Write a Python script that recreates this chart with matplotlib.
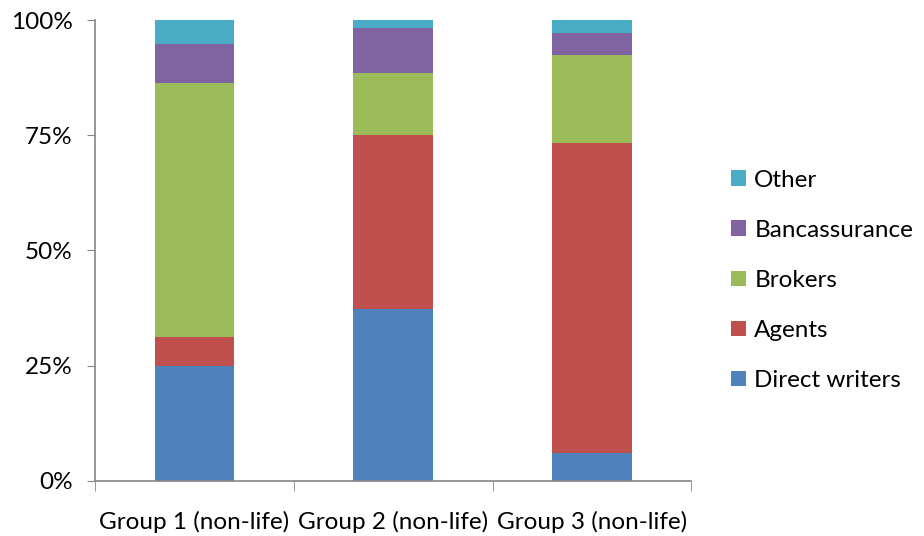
import numpy as np
import matplotlib.pyplot as plt
from matplotlib.ticker import FixedLocator, PercentFormatter

groups = ["Group 1 (non-life)", "Group 2 (non-life)", "Group 3 (non-life)"]
direct = [24.8, 37.3, 5.9]
agents = [6.5, 37.7, 67.5]
brokers = [55.1, 13.6, 19.1]
banca = [8.4, 9.7, 4.8]
other = [5.2, 1.7, 2.7]

series = [("Direct writers", direct, "#4F81BD"),
          ("Agents", agents, "#C0504D"),
          ("Brokers", brokers, "#9BBB59"),
          ("Bancassurance", banca, "#8064A2"),
          ("Other", other, "#4BACC6")]

plt.rcParams['font.family'] = ['Lato', 'DejaVu Sans']

fig = plt.figure(figsize=(9.24, 5.36), dpi=100)
ax = fig.add_axes([0.1028, 0.1035, 0.6455, 0.8583])

x = np.arange(len(groups))
bottom = np.zeros(len(groups))
for name, vals, col in series:
    vals = np.array(vals)
    ax.bar(x, vals, 0.4, bottom=bottom, color=col, label=name, linewidth=0)
    bottom += vals

ax.set_xlim(-0.5, 2.5)
ax.set_ylim(0, 100)
ax.set_yticks([0, 25, 50, 75, 100])
ax.yaxis.set_major_formatter(PercentFormatter(decimals=0))
ax.set_xticks(x)
ax.set_xticklabels(groups)
ax.xaxis.set_minor_locator(FixedLocator([-0.5, 0.5, 1.5, 2.5]))

for s in ["top", "right"]:
    ax.spines[s].set_visible(False)
for s in ["left", "bottom"]:
    ax.spines[s].set_color("#868686")
    ax.spines[s].set_linewidth(1.2)

fs = 17.5
ax.tick_params(axis="y", colors="#868686", labelcolor="black", labelsize=fs, length=6, pad=10)
ax.tick_params(axis="x", which="major", length=0, labelsize=fs, pad=22)
ax.tick_params(axis="x", which="minor", colors="#868686", length=7)

h, l = ax.get_legend_handles_labels()
ax.legend(h[::-1], l[::-1], loc="center left", bbox_to_anchor=(1.03, 0.435),
          frameon=False, fontsize=fs, handlelength=0.6, handleheight=0.6,
          handletextpad=0.35, labelspacing=1.2)

fig.savefig("out.png", dpi=100)
